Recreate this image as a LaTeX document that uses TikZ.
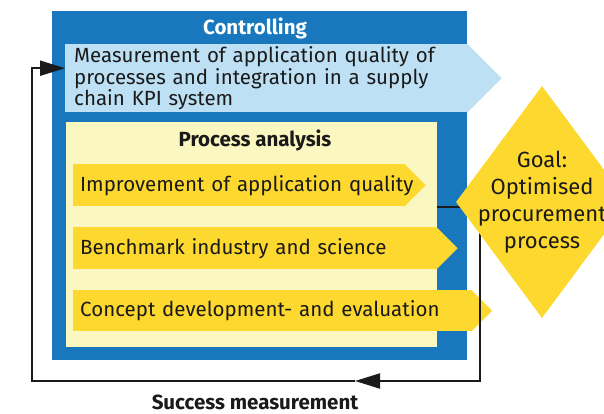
\documentclass[tikz,border=0pt]{standalone}
\usepackage{fontspec}
\setmainfont{Fira Sans}
\usetikzlibrary{arrows.meta,positioning,calc,shapes.geometric}
\definecolor{CtrlBlue}{HTML}{1877BD}
\definecolor{MeasBlue}{HTML}{BEE0F4}
\definecolor{PaleYellow}{HTML}{FBF7C0}
\definecolor{Gold}{HTML}{FDD82E}
\definecolor{Ink}{HTML}{1A1A1A}
\pgfdeclarelayer{back}
\pgfsetlayers{back,main}
\tikzset{
  frame/.style={fill=CtrlBlue,inner sep=0pt,anchor=north west},
  panel/.style={fill=PaleYellow,inner sep=0pt,anchor=north west},
  heading/.style={font=\fontsize{20.5}{22}\selectfont\bfseries,text=Ink},
  measbody/.style={fill=MeasBlue,anchor=north west,align=left,inner xsep=9pt,inner ysep=0pt,font=\fontsize{20.5}{19.5}\selectfont,text=Ink},
  procbody/.style={fill=Gold,anchor=north west,align=left,inner xsep=7pt,inner ysep=0pt,minimum height=42pt,font=\fontsize{20.5}{20}\selectfont,text=Ink},
  goalbox/.style={diamond,fill=Gold,inner sep=-40pt,minimum width=172pt,minimum height=232pt,align=center,font=\fontsize{22}{27}\selectfont,text=Ink},
  fbline/.style={draw=Ink,line width=2pt},
  fbtip/.style={-{Triangle[length=25pt,width=15pt]}}
}
\begin{document}
\begin{tikzpicture}[x=1pt,y=-1pt]
  \useasboundingbox (0,0) rectangle (604,414);
  \begin{pgfonlayer}{back}
    \node[frame,minimum width=415pt,minimum height=349pt] (ctrl) at (52,11) {};
    \node[panel,minimum width=371pt,minimum height=225pt] (proc) at (66,122) {};
  \end{pgfonlayer}
  \node[heading,text=white] (ctrltitle) at (255,28) {Controlling};
  \node[measbody,text width=384pt,minimum height=68pt] (meas) at (65,44)
    {Measurement of application quality of\\processes and integration in a supply\\chain KPI system};
  \node[heading] (proctitle) at (255,140) {Process analysis};
  \node[procbody,text width=317pt] (impr) at (73,164) {\mbox{Improvement of application quality}};
  \node[procbody,text width=349pt] (bench) at (73,227) {Benchmark industry and science};
  \node[procbody,text width=384pt,minimum height=41pt] (concept) at (73,290) {Concept development- and evaluation};
  % arrow points, kept under the texts
  \begin{pgfonlayer}{back}
    \foreach \arr/\col in {meas/MeasBlue,impr/Gold,bench/Gold,concept/Gold}
      \fill[\col] let \p1=(\arr.north east), \p2=(\arr.south east) in
        ([xshift=-1pt]\p1) -- (\p1) -- ([xshift={(\y1-\y2)/2}]\arr.east) -- (\p2) -- ([xshift=-1pt]\p2) -- cycle;
  \end{pgfonlayer}
  % feedback loop
  \coordinate (fbstart) at (437,207);
  \coordinate (fbcorner) at (480,381);
  \coordinate (fbmid) at (355,381);
  \coordinate (fbleft) at (32,381);
  \draw[fbline,fbtip] (fbstart) -| (fbcorner) -- (fbmid);
  \draw[fbline,fbtip] (fbmid) -- (fbleft) |- ([yshift=10pt]meas.west);
  \node[heading,inner sep=0pt] (success) at (255,402) {Success measurement};
  \node[goalbox] (goal) at (542,202) {Goal:\\Optimised\\procurement\\process};
\end{tikzpicture}
\end{document}
